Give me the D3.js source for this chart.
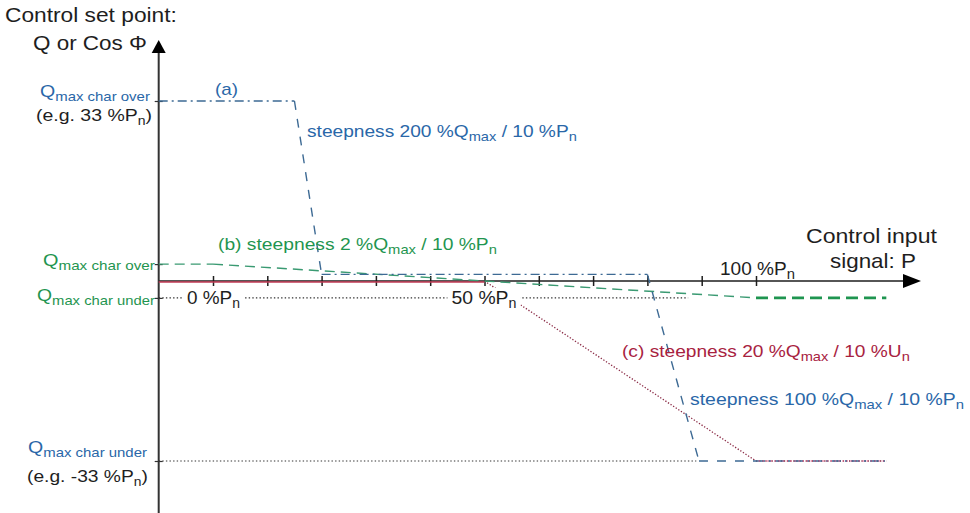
<!DOCTYPE html>
<html><head><meta charset="utf-8">
<script src="https://cdn.jsdelivr.net/npm/d3@7"></script>
<style>
html,body{margin:0;padding:0;background:#fff;}
svg{display:block;font-family:"Liberation Sans",Arial,sans-serif;}
</style></head>
<body>
<svg id="chart" width="970" height="513"></svg>
<script>
// ---- data ----
const pTicks = [0,10,20,30,40,50,60,70,80,90,100];
const pTickLabels = [{p:0,t:"0 %P"},{p:50,t:"50 %P"},{p:100,t:"100 %P"}];
const qmaxA = 33;      // (e.g. 33 %Pn)
const qmaxB = 3.1;     // characteristic (b) limits
// (a) characteristic
const aP = [-10, 15, 20, 80, 89.5, 100, 124];
const aQ = [33, 33, 1.2, 1.2, -33, -33, -33];
const aStyle = ["dashdot","dash","dashdot","dash","dash","dashdot"];
// (b) characteristic
const bP = [-10, 0, 100, 124];
const bQ = [3.1, 3.1, -3.1, -3.1];
const bStyle = ["dash","dash","bold"];
// (c) characteristic
const cP = [-10, 50, 100, 124];
const cQ = [0, 0, -33, -33];
const cStyle = ["solid","dot","dot"];

const BLUE="#2a67a8", BLUELINE="#3d6a94", GREEN="#1f9550", GREENLINE="#3a9a72", RED="#a8223f", REDLINE="#c23a55", BLACK="#1e1e1e";

const svg = d3.select("#chart");
const x = d3.scaleLinear().domain([0,100]).range([213,756]);
const y = d3.scaleLinear().domain([-33,33]).range([461,101]);
const x0 = x(-10), yTop = 53, xEnd = 905;

// reference dotted lines
const refs = [{q:-qmaxB, p1:-10, p2:87.5},{q:-qmaxA, p1:-10, p2:89}];
svg.selectAll("line.ref").data(refs).join("line").attr("class","ref")
  .attr("x1",d=>x(d.p1)).attr("x2",d=>x(d.p2)).attr("y1",d=>y(d.q)).attr("y2",d=>y(d.q))
  .attr("stroke","#333").attr("stroke-width",1.2).attr("stroke-dasharray","1.4,2.2");

// axes
const xAxis = d3.axisBottom(x).tickValues(pTicks).tickSize(5).tickFormat("");
const gx = svg.append("g").attr("transform",`translate(0,${y(0)-5})`).call(xAxis);
gx.select(".domain").remove();
gx.selectAll(".tick line").attr("y2",10).attr("stroke",BLACK).attr("stroke-width",1.5);
svg.append("line").attr("x1",x0).attr("x2",xEnd).attr("y1",y(0)).attr("y2",y(0)).attr("stroke",BLACK).attr("stroke-width",1.6);
svg.append("path").attr("d",`M${xEnd-2},${y(0)-7}L${xEnd+16},${y(0)}L${xEnd-2},${y(0)+7}Z`).attr("fill","#000");
svg.append("line").attr("x1",x0).attr("x2",x0).attr("y1",yTop).attr("y2",513).attr("stroke","#333").attr("stroke-width",2);
svg.append("path").attr("d",`M${x0-7},${yTop}L${x0},${yTop-13}L${x0+7},${yTop}Z`).attr("fill","#000");
const yAxis = d3.axisLeft(y).tickValues([qmaxA,qmaxB,-qmaxB,-qmaxA]).tickSize(4).tickFormat("");
const gy = svg.append("g").attr("transform",`translate(${x0},0)`).call(yAxis);
gy.select(".domain").remove();
gy.selectAll(".tick line").attr("x2",4).attr("x1",-4).attr("stroke","#333").attr("stroke-width",1.2);

// series drawing
function segs(P,Q,S){ return S.map((s,i)=>({x1:x(P[i]),y1:y(Q[i]),x2:x(P[i+1]),y2:y(Q[i+1]),s})); }
const styleMap = {
  a:{dashdot:{c:BLUELINE,w:1.3,d:"9,4,2,4"},dash:{c:BLUELINE,w:1.4,d:"9,9"}},
  b:{dash:{c:GREENLINE,w:1.4,d:"10,6"},bold:{c:GREEN,w:2.6,d:"12,6"}},
  c:{solid:{c:REDLINE,w:1.3,d:null,off:1},dot:{c:"#8a2a45",w:1.3,d:"1.3,1.8"}}
};
function drawSeries(name,P,Q,S){
  svg.append("g").selectAll("line").data(segs(P,Q,S)).join("line")
    .attr("x1",d=>d.x1).attr("x2",d=>d.x2)
    .attr("y1",d=>d.y1+(styleMap[name][d.s].off||0)).attr("y2",d=>d.y2+(styleMap[name][d.s].off||0))
    .attr("stroke",d=>styleMap[name][d.s].c).attr("stroke-width",d=>styleMap[name][d.s].w)
    .attr("stroke-dasharray",d=>styleMap[name][d.s].d);
}
drawSeries("c",cP,cQ,cStyle);
drawSeries("b",bP,bQ,bStyle);
drawSeries("a",aP,aQ,aStyle);
// pink overlay on final flat of (c)
svg.append("line").attr("x1",x(cP[2])).attr("x2",x(cP[3])).attr("y1",y(cQ[2])).attr("y2",y(cQ[3]))
  .attr("stroke","#e0608a").attr("stroke-width",1.2).attr("stroke-dasharray","1.5,2.5").attr("stroke-dashoffset",1.5);

// labels
function label(xp,yp,parts,o){
  const g = svg.append("g");
  const t = g.append("text").attr("fill",o.color||BLACK).attr("font-size",o.size).attr("text-anchor","start");
  parts.forEach(p=>{
    if(typeof p==="string") t.append("tspan").text(p).attr("dy",0);
    else t.append("tspan").text(p.sub).attr("font-size",o.sub||o.size*0.72).attr("dy",o.size*0.22)
      .each(function(){ this.__sub=true; });
  });
  t.selectAll("tspan").each(function(d,i,n){
    if(i>0 && n[i-1].__sub && !this.__sub) d3.select(this).attr("dy",-o.size*0.22);
  });
  const w = t.node().getComputedTextLength();
  const sx = o.width ? o.width/w : 1;
  const left = o.anchor==="end" ? xp - w*sx : xp;
  if(o.bg){
    g.insert("rect","text").attr("x",-4).attr("y",-o.size*0.85).attr("width",w+8).attr("height",o.size*1.15).attr("fill","#fff");
  }
  g.attr("transform",`translate(${left},${yp}) scale(${sx},1)`);
}

label(5,22,["Control set point:"],{size:21,width:172});
label(33,50,["Q or Cos Φ"],{size:21,width:114});
label(150,y(qmaxA)-4,["Q",{sub:"max char over"}],{color:BLUE,size:17,sub:13,anchor:"end",width:110});
label(152,121,["(e.g. 33 %P",{sub:"n"},")"],{size:17,anchor:"end",width:116});
label(215,95,["(a)"],{color:BLUE,size:17,width:23});
label(307,137,["steepness 200 %Q",{sub:"max"}," / 10 %P",{sub:"n"}],{color:BLUE,size:17,sub:13,width:270});
label(218,250,["(b) steepness 2 %Q",{sub:"max"}," / 10 %P",{sub:"n"}],{color:GREEN,size:17,sub:13,width:279});
label(155,y(qmaxB)+2,["Q",{sub:"max char over"}],{color:GREEN,size:17,sub:13,anchor:"end",width:112});
label(155,y(-qmaxB)+3,["Q",{sub:"max char under"}],{color:GREEN,size:17,sub:13,anchor:"end",width:118});
label(x(pTickLabels[0].p)-26,304,[pTickLabels[0].t,{sub:"n"}],{size:19,sub:14,width:53,bg:true});
label(x(pTickLabels[1].p)-33,304,[pTickLabels[1].t,{sub:"n"}],{size:19,sub:14,width:65,bg:true});
label(x(pTickLabels[2].p)-36,275,[pTickLabels[2].t,{sub:"n"}],{size:18,sub:14,width:75});
label(806,243,["Control input"],{size:20,width:131});
label(830,268,["signal: P"],{size:20,width:86});
label(622,357,["(c) steepness 20 %Q",{sub:"max"}," / 10 %U",{sub:"n"}],{color:RED,size:17,sub:13,width:288});
label(690,405,["steepness 100 %Q",{sub:"max"}," / 10 %P",{sub:"n"}],{color:BLUE,size:17,sub:13,width:274});
label(147,y(-qmaxA)-8,["Q",{sub:"max char under"}],{color:BLUE,size:17,sub:13,anchor:"end",width:119});
label(148,482,["(e.g. -33 %P",{sub:"n"},")"],{size:17,anchor:"end",width:121});
</script>
</body></html>
